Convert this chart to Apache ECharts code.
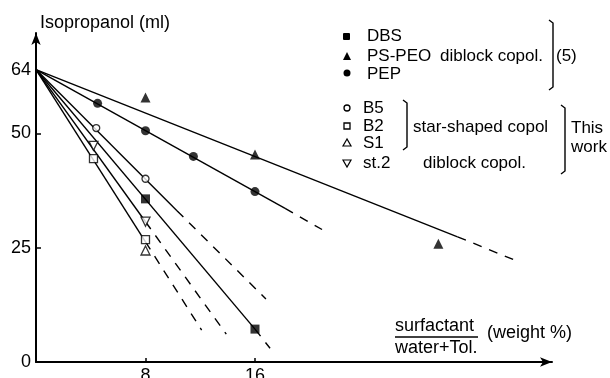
<!DOCTYPE html>
<html>
<head>
<meta charset="utf-8">
<script src="https://cdn.jsdelivr.net/npm/echarts@6/dist/echarts.min.js"></script>
<style type="text/css">
    body { margin: 0; background: #fff; }
    #chart { width: 610px; height: 378px; }
</style>
</head>
<body>
<div id="chart"></div>
<script>
    // measured points [weight %, isopropanol ml]
    var dbsPts = [[8, 35.7], [16, 7.2]];
    var pspeoPts = [[8, 57.9], [16, 45.4], [29.4, 25.9]];
    var pepPts = [[4.5, 56.6], [8, 50.6], [11.5, 45], [16, 37.3]];
    var b5Pts = [[4.4, 51.2], [8, 40.1]];
    var b2Pts = [[4.2, 44.5], [8, 26.8]];
    var s1Pts = [[8, 24.4]];
    var st2Pts = [[4.2, 47.3], [8, 30.7]];

    // fitted lines: solid part, then dashed extrapolation
    var pspeoFit = [[0, 64], [30.8, 27.4]];
    var pspeoExt = [[30.8, 27.4], [35.3, 21.9]];
    var pepFit = [[0, 64], [18.2, 33.6]];
    var pepExt = [[18.2, 33.6], [20.9, 29]];
    var b5Fit = [[0, 64], [10.3, 33.1]];
    var b5Ext = [[10.3, 33.1], [16.8, 13.8]];
    var dbsFit = [[0, 64], [16, 7.2]];
    var dbsExt = [[16, 7.2], [17.1, 3]];
    var st2Fit = [[0, 64], [8, 30.7]];
    var st2Ext = [[8, 30.7], [13.9, 6.1]];
    var b2Fit = [[0, 64], [8, 26.3]];
    var b2Ext = [[8, 26.3], [12.1, 7]];

    var xTickVals = [8, 16];
    var yLabelVals = [0, 25, 50, 64];
    var yTickVals = [25, 50];

    var FONT = '"Liberation Sans", Arial, sans-serif';

    function fitLine(data, dashed) {
        return {
            type: 'line',
            data: data,
            showSymbol: false,
            silent: true,
            z: 1,
            lineStyle: { color: '#000', width: 1.4, type: dashed ? [9, 8] : 'solid' }
        };
    }

    function dots(data, symbol, open, size, rotate) {
        return {
            type: 'scatter',
            data: data,
            symbol: symbol,
            symbolSize: size,
            symbolRotate: rotate || 0,
            z: 3,
            itemStyle: {
                color: open ? '#fff' : '#000',
                borderColor: '#000',
                borderWidth: open ? 1.3 : 0
            }
        };
    }

    function txt(x, y, s, size) {
        return {
            type: 'text', x: x, y: y,
            style: { text: s, fill: '#000', font: (size || 17) + 'px ' + FONT, verticalAlign: 'middle' }
        };
    }

    function bracket(x, y1, y2) {
        return {
            type: 'polyline',
            shape: { points: [[x - 4, y1], [x, y1 + 3], [x, y2 - 3], [x - 4, y2]] },
            style: { stroke: '#000', lineWidth: 1.4, fill: null }
        };
    }

    var chart = echarts.init(document.getElementById('chart'));

    var option = {
        animation: false,
        backgroundColor: '#fff',
        grid: { left: 36, right: 58, top: 33, bottom: 16, outerBoundsMode: 'none', containLabel: false },
        xAxis: {
            type: 'value', min: 0, max: 37.7,
            splitLine: { show: false },
            axisLine: { lineStyle: { color: '#000', width: 2 }, symbol: ['none', 'arrow'], symbolSize: [7, 12] },
            axisTick: { inside: true, length: 4, customValues: xTickVals, lineStyle: { color: '#000', width: 1.5 } },
            axisLabel: { customValues: xTickVals, color: '#000', fontSize: 18, fontFamily: FONT, margin: 5 }
        },
        yAxis: {
            type: 'value', min: 0, max: 72,
            splitLine: { show: false },
            axisLine: { show: true, lineStyle: { color: '#000', width: 2 }, symbol: ['none', 'arrow'], symbolSize: [7, 12] },
            axisTick: { show: true, inside: true, length: 5, customValues: yTickVals, lineStyle: { color: '#000', width: 1.5 } },
            axisLabel: { customValues: yLabelVals, color: '#000', fontSize: 18, fontFamily: FONT, margin: 5 }
        },
        series: [
            fitLine(pspeoFit), fitLine(pspeoExt, true),
            fitLine(pepFit), fitLine(pepExt, true),
            fitLine(b5Fit), fitLine(b5Ext, true),
            fitLine(dbsFit), fitLine(dbsExt, true),
            fitLine(st2Fit), fitLine(st2Ext, true),
            fitLine(b2Fit), fitLine(b2Ext, true),
            dots(dbsPts, 'rect', false, 9),
            dots(pspeoPts, 'triangle', false, 10),
            dots(pepPts, 'circle', false, 9),
            dots(b5Pts, 'circle', true, 7),
            dots(b2Pts, 'rect', true, 8),
            dots(s1Pts, 'triangle', true, 9),
            dots(st2Pts, 'triangle', true, 9, 180)
        ],
        graphic: [
            txt(40, 23, 'Isopropanol (ml)', 18),

            // legend, literature group
            { type: 'rect', shape: { x: 343, y: 33, width: 7, height: 7, r: 1 }, style: { fill: '#000' } },
            { type: 'polygon', shape: { points: [[347, 52], [343, 60], [351, 60]] }, style: { fill: '#000' } },
            { type: 'circle', shape: { cx: 347, cy: 73, r: 3.5 }, style: { fill: '#000' } },
            txt(367, 36, 'DBS'),
            txt(367, 56, 'PS-PEO'),
            txt(367, 74, 'PEP'),
            txt(440, 56, 'diblock copol.'),
            bracket(553, 20, 90),
            txt(556, 56, '(5)'),

            // legend, this work
            { type: 'circle', shape: { cx: 347, cy: 108, r: 3 }, style: { fill: '#fff', stroke: '#000', lineWidth: 1.3 } },
            { type: 'rect', shape: { x: 344, y: 123, width: 6, height: 6 }, style: { fill: '#fff', stroke: '#000', lineWidth: 1.3 } },
            { type: 'polygon', shape: { points: [[347, 139], [343, 146], [351, 146]] }, style: { fill: '#fff', stroke: '#000', lineWidth: 1.2 } },
            { type: 'polygon', shape: { points: [[343, 160], [351, 160], [347, 167]] }, style: { fill: '#fff', stroke: '#000', lineWidth: 1.2 } },
            txt(363, 108, 'B5'),
            txt(363, 126, 'B2'),
            txt(363, 143, 'S1'),
            txt(363, 163, 'st.2'),
            bracket(407, 100, 150),
            txt(413, 127, 'star-shaped copol'),
            txt(423, 163, 'diblock copol.'),
            bracket(565, 105, 174),
            txt(571, 128, 'This'),
            txt(571, 147, 'work'),

            // x axis title
            txt(395, 326, 'surfactant', 18),
            { type: 'line', shape: { x1: 395, y1: 337, x2: 478, y2: 337 }, style: { stroke: '#000', lineWidth: 1.5 } },
            txt(395, 348, 'water+Tol.', 18),
            txt(487, 333, '(weight %)', 18)
        ]
    };

    chart.setOption(option);
</script>
</body>
</html>
